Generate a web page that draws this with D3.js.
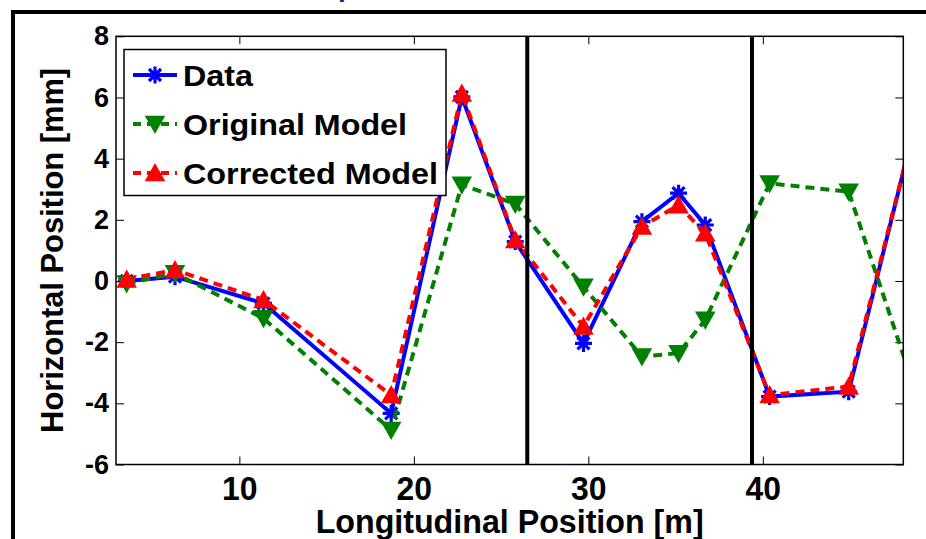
<!DOCTYPE html>
<html>
<head>
<meta charset="utf-8">
<script src="https://cdn.jsdelivr.net/npm/d3@7"></script>
<style>
body { margin:0; background:#fff; }
svg { display:block; font-family:"Liberation Sans", Arial, Helvetica, sans-serif; }
</style>
</head>
<body>
<svg width="926" height="539"></svg>
<script>
// longitudinal position of each sensor [m]
var positions = [3.54, 6.31, 11.38, 18.70, 22.75, 25.81, 29.72, 33.07, 35.17, 36.70, 40.39, 44.92, 48.6]
// horizontal position [mm]
var measured  = [0.00, 0.14, -0.73, -4.33, 6.02, 1.29, -2.04, 1.94, 2.87, 1.83, -3.78, -3.62, 4.83]
var original  = [-0.08, 0.25, -1.22, -4.87, 3.15, 2.52, -0.19, -2.47, -2.36, -1.27, 3.19, 2.92, -3.36]
var corrected = [0.05, 0.36, -0.62, -3.73, 6.13, 1.34, -1.49, 1.78, 2.48, 1.56, -3.73, -3.45, 4.83]
var sectionBreaks = [26.5, 39.38]
var xTicks = [10, 20, 30, 40]
var yTicks = [-6, -4, -2, 0, 2, 4, 6, 8]
var seriesNames = ["Data", "Original Model", "Corrected Model"]

var svg = d3.select("svg")
var font = '"Liberation Sans", Arial, Helvetica, sans-serif'

var box = {left:116, top:36.3, right:903.3, bottom:464.5}

var xScale = d3.scaleLinear().domain([2.93, 48.05]).range([box.left, box.right])
var yScale = d3.scaleLinear().domain([-6, 8]).range([box.bottom, box.top])

// outer figure frame (partly cropped)
svg.append("path")
    .attr("d", "M13,539V12H926")
    .attr("fill", "none")
    .attr("stroke", "#000")
    .attr("stroke-width", 4)

// title, almost all of it above the crop
svg.append("text")
    .attr("x", 338).attr("y", -4)
    .attr("fill", "#1a1aa6")
    .attr("font-size", 28).attr("font-weight", "bold")
    .text("p")

svg.append("defs").append("clipPath").attr("id", "plotclip")
    .append("rect")
    .attr("x", box.left).attr("y", box.top)
    .attr("width", box.right - box.left).attr("height", box.bottom - box.top)

var plain = function(d){ return String(d) }

// axes
var gx = svg.append("g").attr("transform", "translate(0," + box.bottom + ")")
    .call(d3.axisBottom(xScale).tickValues(xTicks).tickSize(-8).tickPadding(12).tickFormat(plain))
var gxTop = svg.append("g").attr("transform", "translate(0," + box.top + ")")
    .call(d3.axisTop(xScale).tickValues(xTicks).tickSize(-8).tickFormat(""))
var gy = svg.append("g").attr("transform", "translate(" + box.left + ",0)")
    .call(d3.axisLeft(yScale).tickValues(yTicks).tickSize(-8).tickPadding(7).tickFormat(plain))
var gyRight = svg.append("g").attr("transform", "translate(" + box.right + ",0)")
    .call(d3.axisRight(yScale).tickValues(yTicks).tickSize(-8).tickFormat(""))

svg.selectAll(".domain").remove()
svg.selectAll(".tick line").attr("stroke", "#000").attr("stroke-width", 1)

gx.selectAll("text")
    .attr("fill", "#000")
    .attr("font-family", font).attr("font-size", 33).attr("font-weight", "bold")
    .attr("textLength", 35.5).attr("lengthAdjust", "spacingAndGlyphs")
gy.selectAll("text")
    .attr("fill", "#000")
    .attr("font-family", font).attr("font-size", 27).attr("font-weight", "bold")

// axis labels
svg.append("text")
    .attr("x", (box.left + box.right) / 2).attr("y", 533)
    .attr("text-anchor", "middle")
    .attr("font-size", 33).attr("font-weight", "bold")
    .attr("textLength", 388).attr("lengthAdjust", "spacingAndGlyphs")
    .text("Longitudinal Position [m]")

svg.append("text")
    .attr("transform", "translate(63," + (box.top + box.bottom) / 2 + ") rotate(-90)")
    .attr("text-anchor", "middle")
    .attr("font-size", 32).attr("font-weight", "bold")
    .attr("textLength", 365).attr("lengthAdjust", "spacingAndGlyphs")
    .text("Horizontal Position [mm]")

// series
var series = [
    {name:seriesNames[0], values:measured, color:"#0000ff", dash:null, marker:"star"},
    {name:seriesNames[1], values:original, color:"#008000", dash:"9,6", marker:"down"},
    {name:seriesNames[2], values:corrected, color:"#ff0000", dash:"9,6", marker:"up"}
]

var markerPath = function(type)
    {
        if (type == "star")
            return "M-8.5,0H8.5M0,-8.5V8.5M-6,-6L6,6M-6,6L6,-6"
        if (type == "up")
            return "M0,-8.5L9,7.5L-9,7.5Z"
        return "M0,8.5L9,-7.5L-9,-7.5Z"
    }

var drawMarker = function(g, s)
    {
        g.append("path")
            .attr("d", markerPath(s.marker))
            .attr("fill", s.marker == "star" ? "none" : s.color)
            .attr("stroke", s.color)
            .attr("stroke-width", s.marker == "star" ? 3.2 : 1.5)
    }

var plot = svg.append("g").attr("clip-path", "url(#plotclip)")

var line = d3.line()
    .x(function(d){return xScale(d.x)})
    .y(function(d){return yScale(d.y)})

series.forEach(function(s)
    {
        var pts = positions.map(function(p, i){ return {x:p, y:s.values[i]} })
        plot.append("path")
            .datum(pts)
            .attr("d", line)
            .attr("fill", "none")
            .attr("stroke", s.color)
            .attr("stroke-width", 4)
            .attr("stroke-dasharray", s.dash)
        plot.selectAll(null)
            .data(pts)
            .enter()
            .append("g")
            .attr("transform", function(d){ return "translate(" + xScale(d.x) + "," + yScale(d.y) + ")" })
            .each(function(){ drawMarker(d3.select(this), s) })
    })

// section boundaries
plot.selectAll(".brk")
    .data(sectionBreaks)
    .enter()
    .append("line")
    .attr("x1", function(d){return xScale(d)})
    .attr("x2", function(d){return xScale(d)})
    .attr("y1", box.top)
    .attr("y2", box.bottom)
    .attr("stroke", "#000")
    .attr("stroke-width", 4)

// axes box
svg.append("rect")
    .attr("x", box.left).attr("y", box.top)
    .attr("width", box.right - box.left).attr("height", box.bottom - box.top)
    .attr("fill", "none")
    .attr("stroke", "#000")
    .attr("stroke-width", 1.5)

// legend
var legend = svg.append("g")
legend.append("rect")
    .attr("x", 124).attr("y", 49.5)
    .attr("width", 322).attr("height", 146)
    .attr("fill", "#fff")
    .attr("stroke", "#000")
    .attr("stroke-width", 1.5)

var legendWidths = [70, 224, 255]
series.forEach(function(s, i)
    {
        var ly = 75 + i * 49
        legend.append("line")
            .attr("x1", 133).attr("x2", 177)
            .attr("y1", ly).attr("y2", ly)
            .attr("stroke", s.color)
            .attr("stroke-width", 4)
            .attr("stroke-dasharray", s.dash ? "8,6" : null)
        var m = legend.append("g").attr("transform", "translate(155," + ly + ")")
        drawMarker(m, s)
        legend.append("text")
            .attr("x", 183).attr("y", ly + 11)
            .attr("font-size", 30).attr("font-weight", "bold")
            .attr("textLength", legendWidths[i]).attr("lengthAdjust", "spacingAndGlyphs")
            .text(s.name)
    })
</script>
</body>
</html>
